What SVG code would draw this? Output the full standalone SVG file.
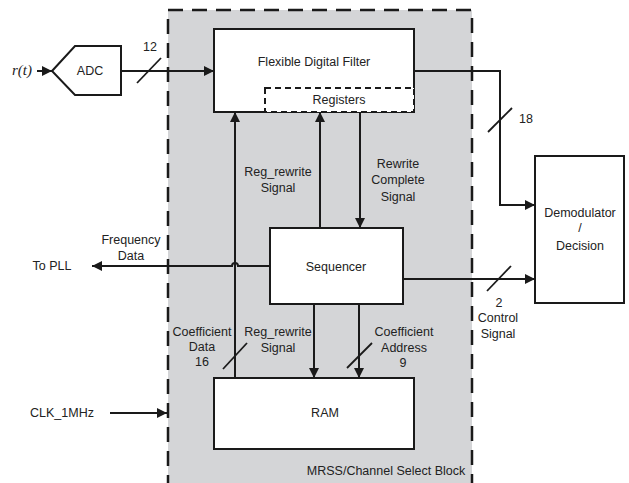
<svg xmlns="http://www.w3.org/2000/svg" width="629" height="483" viewBox="0 0 629 483">
<defs>
<marker id="ah" viewBox="0 0 10 10" refX="10" refY="5" markerWidth="10" markerHeight="10" markerUnits="userSpaceOnUse" orient="auto">
<path d="M0,0 L10,5 L0,10 Z" fill="#1a1a1a"/>
</marker>
</defs>
<style>
text{font-family:"Liberation Sans",Arial,sans-serif;font-size:12.5px;fill:#222;text-anchor:middle}
.box{fill:#fff;stroke:#1a1a1a;stroke-width:2}
.ln{fill:none;stroke:#1a1a1a;stroke-width:2}
.arr{fill:none;stroke:#1a1a1a;stroke-width:2;marker-end:url(#ah)}
.sl{fill:none;stroke:#1a1a1a;stroke-width:1.8}
</style>
<rect width="629" height="483" fill="#fff"/>
<g id="block">
<rect x="168" y="10" width="304" height="480" fill="#d4d5d7"/>
<path d="M168,490 L168,10 L472,10 L472,490" fill="none" stroke="#1a1a1a" stroke-width="2.5" stroke-dasharray="15 9"/>
<text x="386" y="475">MRSS/Channel Select Block</text>
</g>
<g id="adc">
<polygon class="box" points="52,71 75,46 121,46 121,95 75,95"/>
<text x="90" y="75">ADC</text>
</g>
<g id="filter">
<rect class="box" x="214" y="29" width="200" height="83"/>
<text x="314" y="66">Flexible Digital Filter</text>
</g>
<g id="registers">
<rect x="265" y="88" width="149" height="24" fill="#fff" stroke="#1a1a1a" stroke-width="2" stroke-dasharray="6 4"/>
<text x="339" y="104">Registers</text>
</g>
<g id="sequencer">
<rect class="box" x="270" y="228" width="133" height="76"/>
<text x="336" y="271">Sequencer</text>
</g>
<g id="ram">
<rect class="box" x="214" y="378" width="200" height="71"/>
<text x="325" y="417">RAM</text>
</g>
<g id="demod">
<rect class="box" x="535" y="156" width="89" height="147"/>
<text x="580" y="217">Demodulator</text>
<text x="580" y="232">/</text>
<text x="580" y="250">Decision</text>
</g>
<g id="connectors">
<line class="arr" x1="37" y1="71" x2="52" y2="71"/>
<text x="22" y="75" style="font-style:italic;font-family:'Liberation Serif',serif;font-size:15px">r(t)</text>
<line class="arr" x1="121" y1="71" x2="214" y2="71"/>
<line class="sl" x1="137" y1="83" x2="161" y2="58"/>
<text x="150" y="51">12</text>
<path class="arr" d="M414,71 L500,71 L500,205 L535,205"/>
<line class="sl" x1="488" y1="132" x2="512" y2="108"/>
<text x="526" y="123">18</text>
<line class="arr" x1="403" y1="279" x2="535" y2="279"/>
<line class="sl" x1="487" y1="291" x2="511" y2="266"/>
<text x="499" y="307">2</text>
<text x="498" y="322">Control</text>
<text x="498" y="338">Signal</text>
<path class="arr" d="M270,266 L238,266 A3,3 0 0 0 232,266 L92,266"/>
<text x="131" y="244">Frequency</text>
<text x="131" y="260">Data</text>
<text x="52" y="270">To PLL</text>
<line class="arr" x1="235" y1="378" x2="235" y2="112"/>
<line class="arr" x1="320" y1="228" x2="320" y2="112"/>
<text x="278" y="176">Reg_rewrite</text>
<text x="278" y="192">Signal</text>
<line class="arr" x1="360" y1="112" x2="360" y2="228"/>
<text x="398" y="168">Rewrite</text>
<text x="398" y="184">Complete</text>
<text x="398" y="201">Signal</text>
<line class="arr" x1="314" y1="304" x2="314" y2="378"/>
<text x="278" y="336">Reg_rewrite</text>
<text x="278" y="352">Signal</text>
<line class="arr" x1="359" y1="304" x2="359" y2="378"/>
<line class="sl" x1="347" y1="368" x2="372" y2="343"/>
<text x="404" y="336">Coefficient</text>
<text x="404" y="352">Address</text>
<text x="403" y="367">9</text>
<line class="sl" x1="223" y1="369" x2="247" y2="343"/>
<text x="202" y="336">Coefficient</text>
<text x="202" y="351">Data</text>
<text x="202" y="366">16</text>
<line class="arr" x1="110" y1="413" x2="167" y2="413"/>
<text x="62" y="417">CLK_1MHz</text>
</g>
</svg>
